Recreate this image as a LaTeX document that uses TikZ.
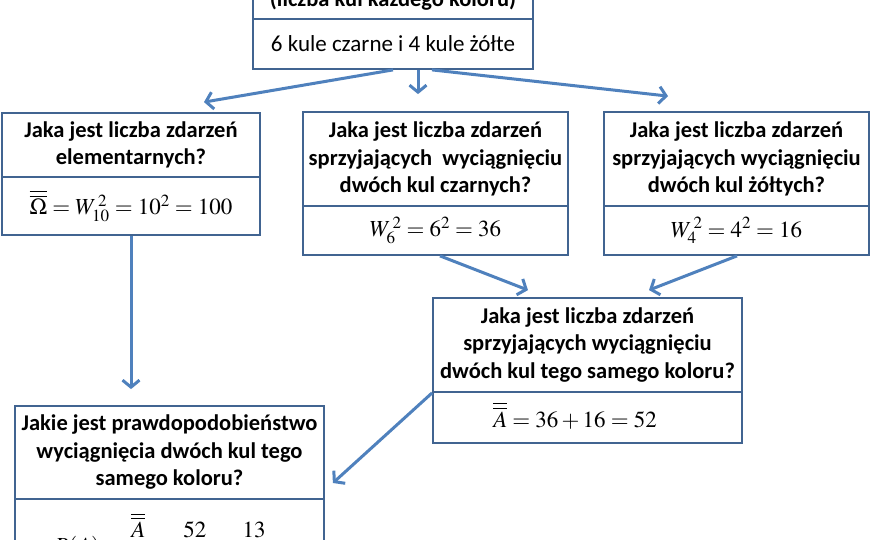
\documentclass[tikz,border=0pt]{standalone}
\usepackage{mathptmx}
\usepackage[no-math]{fontspec}
\setmainfont{Carlito}
\usetikzlibrary{arrows.meta}
\definecolor{boxc}{RGB}{65,100,145}
\definecolor{arrc}{RGB}{79,129,189}
\newcommand{\dbar}[1]{\overline{\overline{#1}}}
\begin{document}
\begin{tikzpicture}[x=1pt,y=-1pt,
  sec/.style={draw=boxc, line width=1.8pt, inner sep=0pt, align=center,
    font=\bfseries\fontsize{22.5}{27.5}\selectfont},
  ans/.style={draw=boxc, line width=1.8pt, inner sep=0pt, align=center,
    font=\fontsize{23}{26}\selectfont},
  frm/.style={font=\fontsize{23}{26}\selectfont, inner sep=0pt},
  arr/.style={draw=arrc, line width=3pt, -{Straight Barb[length=7pt,width=17pt]}}]
\useasboundingbox (0,0) rectangle (880,540);
\clip (0,0) rectangle (880,540);
\fill[white] (0,0) rectangle (880,540);
% top box
\node[sec, minimum width=280pt, minimum height=38pt] (t1) at (393,0) {(liczba kul każdego koloru)};
\node[sec, font=\fontsize{23}{26}\selectfont, minimum width=280pt, minimum height=50pt] (t2) at (393,44) {6 kule czarne i 4 kule żółte};
% box 1
\node[sec, minimum width=258pt, minimum height=64pt] (b1q) at (131,145) {Jaka jest liczba zdarzeń\\elementarnych?};
\node[ans, minimum width=258pt, minimum height=58pt] (b1a) at (131,206) {$\dbar{\Omega}=W_{10}^{\,2}=10^2=100$};
% box 2
\node[sec, minimum width=265pt, minimum height=94pt] (b2q) at (435.5,159) {Jaka jest liczba zdarzeń\\sprzyjających\ \ wyciągnięciu\\dwóch kul czarnych?};
\node[ans, minimum width=265pt, minimum height=49pt] (b2a) at (435.5,230.5) {$W_{6}^{\,2}=6^2=36$};
% box 3
\node[sec, minimum width=265pt, minimum height=94pt] (b3q) at (736.5,159) {Jaka jest liczba zdarzeń\\sprzyjających wyciągnięciu\\dwóch kul żółtych?};
\node[ans, minimum width=265pt, minimum height=49pt] (b3a) at (736.5,230.5) {$W_{4}^{\,2}=4^2=16$};
% box 4
\node[sec, minimum width=309pt, minimum height=94pt] (b4q) at (587.5,345) {Jaka jest liczba zdarzeń\\sprzyjających wyciągnięciu\\dwóch kul tego samego koloru?};
\node[ans, minimum width=309pt, minimum height=51pt] (b4a) at (587.5,417.5) {};
\node[frm, anchor=base] (f4) at (575,427) {$\dbar{A}=36+16=52$};
% box 5
\node[sec, minimum width=309pt, minimum height=93pt] (b5q) at (169.5,452.5) {Jakie jest prawdopodobieństwo\\wyciągnięcia dwóch kul tego\\samego koloru?};
\node[ans, minimum width=309pt, minimum height=101pt] (b5a) at (169.5,549.5) {};
\node[frm, anchor=base west] (f5) at (54,553) {$\displaystyle P(A)=\frac{\dbar{A}}{\dbar{\Omega}}=\frac{52}{100}=\frac{13}{25}$};
% arrows
\draw[arr] (t2.south) -- ([xshift=73pt,yshift=10pt]b1q.north);
\draw[arr] ([xshift=25pt]t2.south) -- ([xshift=-17.5pt,yshift=17pt]b2q.north);
\draw[arr] ([xshift=39pt]t2.south) -- ([xshift=-68.5pt,yshift=15pt]b3q.north);
\draw[arr] (b1a.south) -- ([xshift=-38.5pt,yshift=16pt]b5q.north);
\draw[arr] ([xshift=4.5pt]b2a.south) -- ([xshift=-59.5pt,yshift=7pt]b4q.north);
\draw[arr] ([xshift=0.5pt]b3a.south) -- ([xshift=61.5pt,yshift=7pt]b4q.north);
\draw[arr] (b4q.south west) -- ([xshift=8pt,yshift=-30.5pt]b5q.east);
\end{tikzpicture}
\end{document}
